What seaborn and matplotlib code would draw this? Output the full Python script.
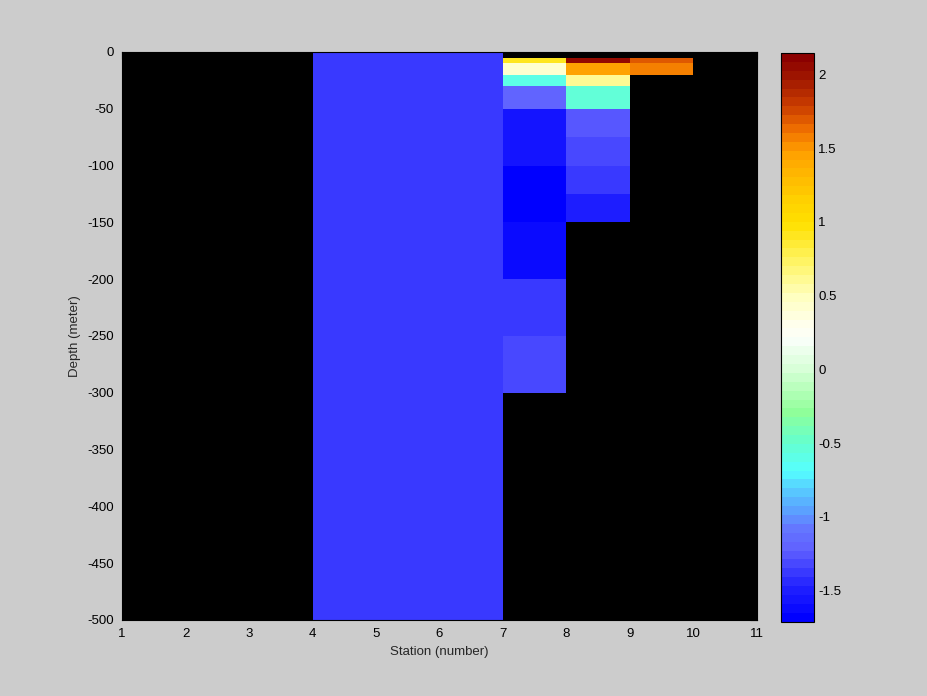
import numpy as np
import matplotlib
matplotlib.use("Agg")
import matplotlib.pyplot as plt
from matplotlib.colors import LinearSegmentedColormap, ListedColormap
from matplotlib.ticker import FuncFormatter
import seaborn as sns

# grid edges
station_edges = np.arange(1, 12)
depth_edges = [0, 5, 10, 20, 30, 50, 75, 100, 125, 150, 200, 250, 300, 500]

nan = np.nan
# one list per station cell (station i spans i..i+1), top to bottom
st1 = [nan] * 13
st2 = [nan] * 13
st3 = [nan] * 13
st4 = [-1.4] * 13
st5 = [-1.4] * 13
st6 = [-1.4] * 13
st7 = [nan, 0.9, 0.45, -0.6, -1.22, -1.58, -1.58, -1.71, -1.71, -1.62, -1.4, -1.32, nan]
st8 = [nan, 2.05, 1.47, 0.62, -0.55, -1.27, -1.33, -1.4, -1.5, nan, nan, nan, nan]
st9 = [nan, 1.68, 1.58, nan, nan, nan, nan, nan, nan, nan, nan, nan, nan]
st10 = [nan] * 13

vmin, vmax = -1.71, 2.145

# colour anchors
cb_values = [-1.71, -1.5, -1.25, -1.1, -1.0, -0.88, -0.7, -0.5, -0.3, 0.0, 0.2, 0.3,
             0.5, 0.75, 1.0, 1.2, 1.5, 1.65, 1.8, 2.0, 2.145]
cb_colors = ['#0000ff', '#2222ff', '#6060ff', '#6478ff', '#5c9cff', '#58c0ff', '#55ffff',
             '#66ffcc', '#90ff99', '#d8ffd8', '#fafffa', '#fffff0', '#ffffc0', '#fff460',
             '#ffe000', '#ffcc00', '#ffa000', '#f07000', '#cc4000', '#a01800', '#8b0000']

pos = [(v - vmin) / (vmax - vmin) for v in cb_values]
smooth = LinearSegmentedColormap.from_list('ocean_anom', list(zip(pos, cb_colors)))
cmap = ListedColormap(smooth(np.linspace(0, 1, 64)))

C = np.array([st1, st2, st3, st4, st5, st6, st7, st8, st9, st10]).T

sns.set_style("white")
plt.rcParams['font.family'] = ['Liberation Sans', 'DejaVu Sans']
plt.rcParams['axes.unicode_minus'] = False

fig = plt.figure(figsize=(9.28, 6.96), dpi=100, facecolor='#cccccc')
ax = fig.add_axes([0.1315, 0.1092, 0.6842, 0.8161])
ax.set_facecolor('black')

mesh = ax.pcolormesh(station_edges, -np.array(depth_edges), C, cmap=cmap,
                     vmin=vmin, vmax=vmax, shading='flat')

ax.set_xlim(1, 11)
ax.set_ylim(-500, 0)
ax.set_xticks(station_edges)
ax.set_yticks(np.arange(-500, 1, 50))
ax.tick_params(direction='in', length=5, labelsize=9.5, colors='black', pad=6,
               top=True, right=True)
for s in ax.spines.values():
    s.set_color('black')
    s.set_linewidth(0.8)
ax.set_xlabel('Station (number)', fontsize=9.5, labelpad=4)
ax.set_ylabel('Depth (meter)', fontsize=9.5, labelpad=4)

cax = fig.add_axes([0.8416, 0.1068, 0.0356, 0.8171])
cb = fig.colorbar(mesh, cax=cax, ticks=[-1.5, -1, -0.5, 0, 0.5, 1, 1.5, 2])
cb.ax.yaxis.set_major_formatter(FuncFormatter(lambda v, p: '%g' % v))
cb.ax.tick_params(direction='in', length=4, labelsize=9.5, left=True, right=True,
                  colors='black', pad=3)
cb.outline.set_edgecolor('black')
cb.outline.set_linewidth(0.8)

fig.savefig('out.png', dpi=100, facecolor='#cccccc')
